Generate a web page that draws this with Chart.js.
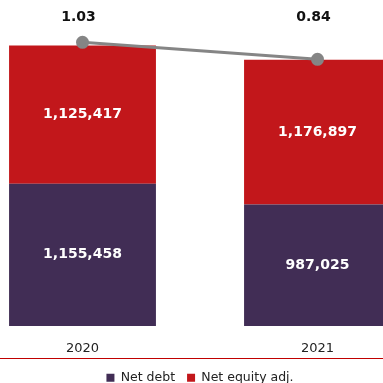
<!DOCTYPE html>
<html>
<head>
<meta charset="utf-8">
<script src="https://cdn.jsdelivr.net/npm/chart.js@4/dist/chart.umd.min.js"></script>
<style>
  html, body { margin: 0; padding: 0; background: #fff; overflow: hidden; width: 383px; height: 383px; }
  #wrap { position: absolute; left: -35px; top: 0; width: 470px; height: 394px; }
  #rule { position: absolute; left: 0; top: 358px; width: 383px; height: 0; border-top: 1.5px solid #c00000; }
</style>
</head>
<body>
<div id="wrap"><canvas id="grafico"></canvas></div>
<div id="rule"></div>
<script>
// Dados do gráfico
const anos = ['2020', '2021'];
const netDebt = [1155458, 987025];
const netEquityAdj = [1125417, 1176897];
const ratio = [1.03, 0.84];

const fonte = 'DejaVu Sans';

// Rótulos dos valores (barras e linha)
const rotulos = {
    id: 'rotulos',
    afterDatasetsDraw(chart) {
        const ctx = chart.ctx;
        ctx.save();
        ctx.textAlign = 'center';
        ctx.textBaseline = 'middle';
        chart.data.datasets.forEach((ds, i) => {
            const meta = chart.getDatasetMeta(i);
            meta.data.forEach((el, j) => {
                if (ds.type === 'line') {
                    ctx.fillStyle = '#111';
                    ctx.font = 'bold 14px "' + fonte + '"';
                    ctx.fillText(ds.data[j].toFixed(2), chart.scales.x.getPixelForValue(j) - 4, chart.chartArea.top + 17);
                } else {
                    ctx.fillStyle = '#fff';
                    ctx.font = 'bold 14px "' + fonte + '"';
                    ctx.fillText(ds.data[j].toLocaleString('en-US'), el.x, (el.y + el.base) / 2);
                }
            });
        });
        ctx.restore();
    }
};

const config = {
    type: 'bar',
    data: {
        labels: anos,
        datasets: [
            {
                type: 'line',
                label: 'Ratio',
                data: ratio,
                yAxisID: 'y1',
                borderColor: '#858585',
                backgroundColor: '#858585',
                borderWidth: 3,
                pointRadius: 5,
                order: 0
            },
            {
                label: 'Net debt',
                data: netDebt,
                backgroundColor: '#412d55',
                stack: 's',
                categoryPercentage: 1,
                barPercentage: 0.625,
                order: 1
            },
            {
                label: 'Net equity adj.',
                data: netEquityAdj,
                backgroundColor: '#c2171b',
                stack: 's',
                categoryPercentage: 1,
                barPercentage: 0.625,
                order: 1
            }
        ]
    },
    options: {
        responsive: true,
        maintainAspectRatio: false,
        animation: false,
        layout: { autoPadding: false, padding: 0 },
        plugins: {
            tooltip: { enabled: false },
            legend: {
                position: 'bottom',
                labels: {
                    font: { family: fonte, size: 12.5 },
                    color: '#222',
                    boxWidth: 8,
                    boxHeight: 8,
                    padding: 12,
                    filter: (item, data) => data.datasets[item.datasetIndex].type !== 'line'
                }
            }
        },
        scales: {
            x: {
                stacked: true,
                grid: { display: false, drawTicks: false },
                border: { display: false },
                ticks: { font: { family: fonte, size: 13 }, color: '#222', padding: 15 },
                afterFit: (scale) => { scale.height -= 12; }
            },
            y: {
                stacked: true,
                display: false,
                min: 0,
                max: 2650000
            },
            y1: {
                display: false,
                min: -2.142,
                max: 1.503
            }
        }
    },
    plugins: [rotulos]
};

window.onload = function() {
    const ctx = document.getElementById('grafico').getContext('2d');
    new Chart(ctx, config);
};
</script>
</body>
</html>
